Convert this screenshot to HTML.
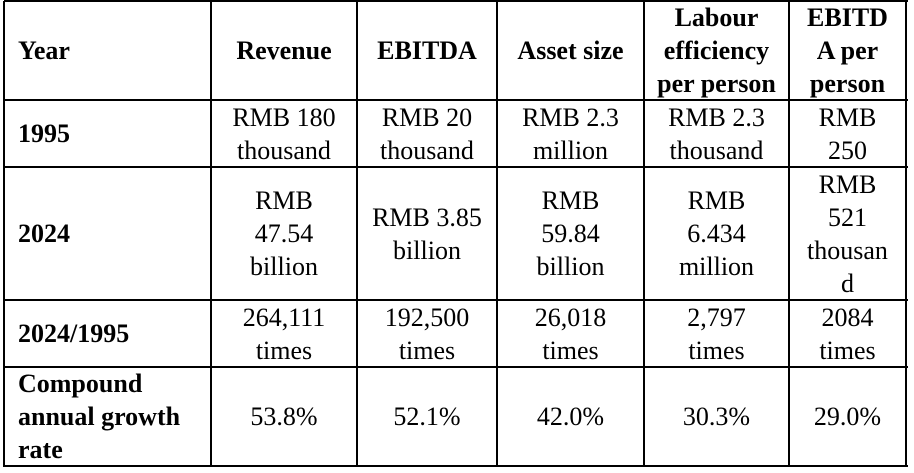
<!DOCTYPE html>
<html><head><meta charset="utf-8"><style>
body{margin:0;width:914px;height:473px;background:#fff;overflow:hidden;font-family:"Liberation Serif","Times New Roman","DejaVu Serif",serif;color:#000}
.c{position:absolute;display:flex;align-items:center;justify-content:center;text-align:center;font-family:"Liberation Serif","Times New Roman","DejaVu Serif",serif;font-size:26px;line-height:33px;white-space:nowrap;box-sizing:border-box}
.h{font-weight:bold}
.l{justify-content:flex-start;text-align:left;padding-left:14px}
.vl{position:absolute;width:2px;background:#000;top:1px;height:466px}
.hl{position:absolute;height:2px;background:#000;left:4px;width:904px}
</style></head><body>
<div id="t"></div>
<script>
const xs=[4,211,357,497,644,789,906];
const ys=[1,100,167,300,367,466];
const rows=[
 ["Year","Revenue","EBITDA","Asset size","Labour<br>efficiency<br>per person","EBITD<br>A per<br>person"],
 ["1995","RMB 180<br>thousand","RMB 20<br>thousand","RMB 2.3<br>million","RMB 2.3<br>thousand","RMB<br>250"],
 ["2024","RMB<br>47.54<br>billion","RMB 3.85<br>billion","RMB<br>59.84<br>billion","RMB<br>6.434<br>million","RMB<br>521<br>thousan<br>d"],
 ["2024/1995","264,111<br>times","192,500<br>times","26,018<br>times","2,797<br>times","2084<br>times"],
 ["Compound<br>annual growth<br>rate","53.8%","52.1%","42.0%","30.3%","29.0%"]
];
const t=document.getElementById('t');
rows.forEach((r,i)=>r.forEach((txt,j)=>{
 const d=document.createElement('div');
 
 
 d.className='c'+((i==0||j==0)?' h':'')+(j==0?' l':'');
 d.style.left=xs[j]+'px';d.style.width=(xs[j+1]-xs[j])+'px';
 d.style.top=ys[i]+'px';d.style.height=(ys[i+1]-ys[i])+'px';
 d.innerHTML=txt;t.appendChild(d);
}));
xs.forEach(x=>{const v=document.createElement('div');
 
 
 v.className='vl';v.style.left=(x-1)+'px';t.appendChild(v);});
ys.forEach(y=>{const h=document.createElement('div');
 
 
 h.className='hl';h.style.top=(y-1)+'px';t.appendChild(h);});
</script>
</body></html>
